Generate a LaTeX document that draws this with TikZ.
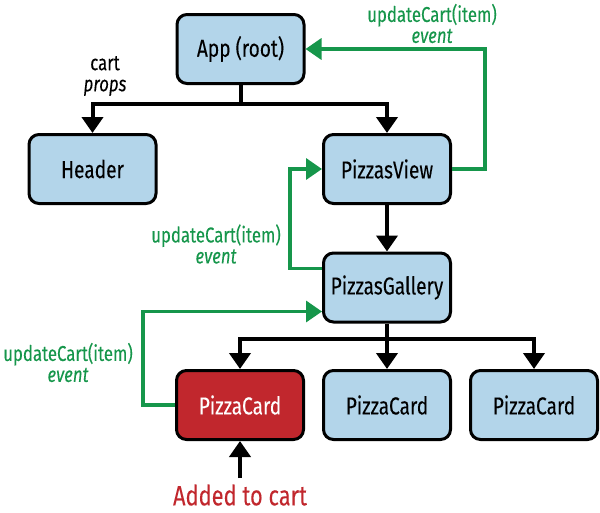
\documentclass[tikz,border=0pt]{standalone}
\usepackage{fontspec}
\setmainfont{Fira Sans}[FakeStretch=0.78,FakeBold=0.1]
\usetikzlibrary{arrows.meta}
\definecolor{boxblue}{RGB}{179,213,234}
\definecolor{cardred}{RGB}{193,39,45}
\definecolor{evgreen}{RGB}{22,150,75}
\begin{document}
\begin{tikzpicture}[x=1pt,y=-1pt,
  comp/.style={draw=black, line width=3pt, rounded corners=10pt, fill=boxblue,
    minimum width=127pt, minimum height=69pt, inner sep=0pt,
    font=\fontsize{24.5}{28}\selectfont},
  hot/.style={comp, fill=cardred, text=white},
  flow/.style={draw=black, line width=4pt, -{Triangle[width=21pt,length=16pt]}},
  plain/.style={draw=black, line width=4pt},
  evt/.style={draw=evgreen, line width=3.5pt, -{Triangle[width=21pt,length=16pt]}},
  lbl/.style={inner sep=0pt, align=center, font=\fontsize{21.5}{21}\selectfont},
  glbl/.style={lbl, text=evgreen},
]
\useasboundingbox (0,0) rectangle (600,512);

% components
\node[comp] (app) at (240.5,49) {App (root)};
\node[comp] (hdr) at (92.5,169) {Header};
\node[comp] (pv) at (387,169) {PizzasView};
\node[comp] (pg) at (387,287.5) {PizzasGallery};
\node[hot] (c1) at (240,405) {PizzaCard};
\node[comp] (c2) at (387,405) {PizzaCard};
\node[comp] (c3) at (534,405) {PizzaCard};

% labels
\node[lbl] (props) at (105,76) {cart\\\textit{props}};
\node[glbl] (ev1) at (432,23.5) {updateCart(item)\\\textit{event}};
\node[glbl] (ev2) at (216,244) {updateCart(item)\\\textit{event}};
\node[glbl] (ev3) at (68,362.5) {updateCart(item)\\\textit{event}};
\node[lbl, text=cardred, font=\fontsize{28}{30}\selectfont] (added) at (240,495) {Added to cart};

% props flow
\draw[plain] (app.south) -- ++(0,19) coordinate (j1);
\draw[flow] (j1) -| (hdr.north);
\draw[flow] (j1) -| (pv.north);
\draw[flow] (pv.south) -- (pg.north);
\draw[plain] (pg.south) -- ++(0,15) coordinate (j2);
\draw[flow] (j2) -| (c1.north);
\draw[flow] (j2) -- (c2.north);
\draw[flow] (j2) -| (c3.north);
\draw[flow] ([yshift=6pt]added.north) -- (c1.south);

% events
\draw[evt] (pv.east) -- ++(33,0) |- (app.east);
\draw[evt] ([yshift=19pt]pg.west) -- ++(-32,0) |- (pv.west);
\draw[evt] (c1.west) -- ++(-32,0) |- ([yshift=-24pt]pg.west);
\end{tikzpicture}
\end{document}
